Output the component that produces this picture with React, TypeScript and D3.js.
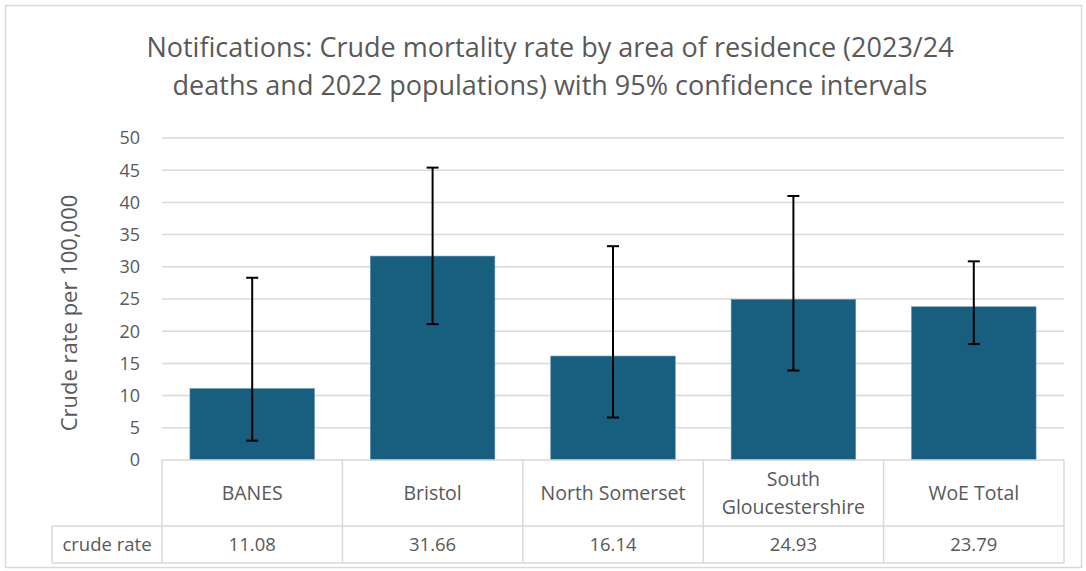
import React from 'react';
import * as d3 from 'd3';

const categories = ['BANES', 'Bristol', 'North Somerset', 'South Gloucestershire', 'WoE Total'];
const categoryLines = [['BANES'], ['Bristol'], ['North Somerset'], ['South', 'Gloucestershire'], ['WoE Total']];
const crudeRate = [11.08, 31.66, 16.14, 24.93, 23.79];
const lowerCI = [3.0, 21.1, 6.6, 13.9, 18.0];
const upperCI = [28.3, 45.4, 33.2, 41.0, 30.85];
const yTicks = [0, 5, 10, 15, 20, 25, 30, 35, 40, 45, 50];

const W = 1086;
const H = 571;
const FONT = '"Open Sans", "Liberation Sans", Arial, sans-serif';
const GREY = '#595959';
const LINE = '#d9d9d9';
const BAR = '#175e7f';

const App = () => {
  const x = d3
    .scaleBand()
    .domain(categories)
    .range([162, 1064])
    .paddingInner(0.31)
    .paddingOuter(0.155);
  const y = d3.scaleLinear().domain([0, 50]).range([460, 138]);
  const step = x.step();
  const cellX = (i: number) => 162 + i * step;
  const row1Bottom = 526;
  const row2Bottom = 563;

  return (
    <svg
      width={W}
      height={H}
      style={{ position: 'absolute', top: 0, left: 0, background: '#fff' }}
      fontFamily={FONT}
    >
      <rect x={5.5} y={5.5} width={1076} height={562} fill="#fff" stroke={LINE} strokeWidth={1.5} />

      <text x={550} y={57} textAnchor="middle" fontSize={27} fill={GREY}>
        Notifications: Crude mortality rate by area of residence (2023/24
      </text>
      <text x={550} y={95} textAnchor="middle" fontSize={27} fill={GREY}>
        deaths and 2022 populations) with 95% confidence intervals
      </text>

      {/* gridlines */}
      {yTicks.filter((t) => t > 0).map((t) => (
        <line key={t} x1={162} x2={1064} y1={y(t)} y2={y(t)} stroke={LINE} strokeWidth={1.5} />
      ))}

      {/* y tick labels */}
      {yTicks.map((t) => (
        <text key={t} x={140} y={y(t)} dy="0.35em" textAnchor="end" fontSize={18} fill={GREY}>
          {t}
        </text>
      ))}

      <text
        transform={`translate(77,${y(25) + 14}) rotate(-90)`}
        textAnchor="middle"
        fontSize={22}
        fill={GREY}
      >
        Crude rate per 100,000
      </text>

      {/* bars */}
      {categories.map((c, i) => (
        <rect
          key={c}
          x={x(c)}
          y={y(crudeRate[i])}
          width={x.bandwidth()}
          height={y(0) - y(crudeRate[i])}
          fill={BAR}
          stroke="#5d8aa5"
          strokeWidth={0.6}
        />
      ))}

      {/* error bars */}
      {categories.map((c, i) => {
        const cx = (x(c) as number) + x.bandwidth() / 2;
        return (
          <g key={c} stroke="#000" strokeWidth={2}>
            <line x1={cx} x2={cx} y1={y(upperCI[i])} y2={y(lowerCI[i])} />
            <line x1={cx - 6} x2={cx + 6} y1={y(upperCI[i])} y2={y(upperCI[i])} />
            <line x1={cx - 6} x2={cx + 6} y1={y(lowerCI[i])} y2={y(lowerCI[i])} />
          </g>
        );
      })}

      {/* data table */}
      <g stroke={LINE} strokeWidth={1.5} fill="none">
        <line x1={162} x2={1064} y1={460} y2={460} />
        <line x1={52} x2={1064} y1={row1Bottom} y2={row1Bottom} />
        <line x1={52} x2={1064} y1={row2Bottom} y2={row2Bottom} />
        <line x1={52} x2={52} y1={row1Bottom} y2={row2Bottom} />
        {d3.range(categories.length + 1).map((i) => (
          <line key={i} x1={cellX(i)} x2={cellX(i)} y1={460} y2={row2Bottom} />
        ))}
      </g>

      {categoryLines.map((lines, i) => {
        const cx = cellX(i) + step / 2;
        const mid = (460 + row1Bottom) / 2;
        const lh = 28;
        return (
          <text key={i} textAnchor="middle" fontSize={19.5} fill={GREY}>
            {lines.map((l, j) => (
              <tspan key={j} x={cx} y={mid + (j - (lines.length - 1) / 2) * lh} dy="0.35em">
                {l}
              </tspan>
            ))}
          </text>
        );
      })}

      <text x={107} y={(row1Bottom + row2Bottom) / 2} dy="0.35em" textAnchor="middle" fontSize={18.5} fill={GREY}>
        crude rate
      </text>
      {crudeRate.map((v, i) => (
        <text
          key={i}
          x={cellX(i) + step / 2}
          y={(row1Bottom + row2Bottom) / 2}
          dy="0.35em"
          textAnchor="middle"
          fontSize={18.5}
          fill={GREY}
        >
          {v.toFixed(2)}
        </text>
      ))}
    </svg>
  );
};

export default App;
